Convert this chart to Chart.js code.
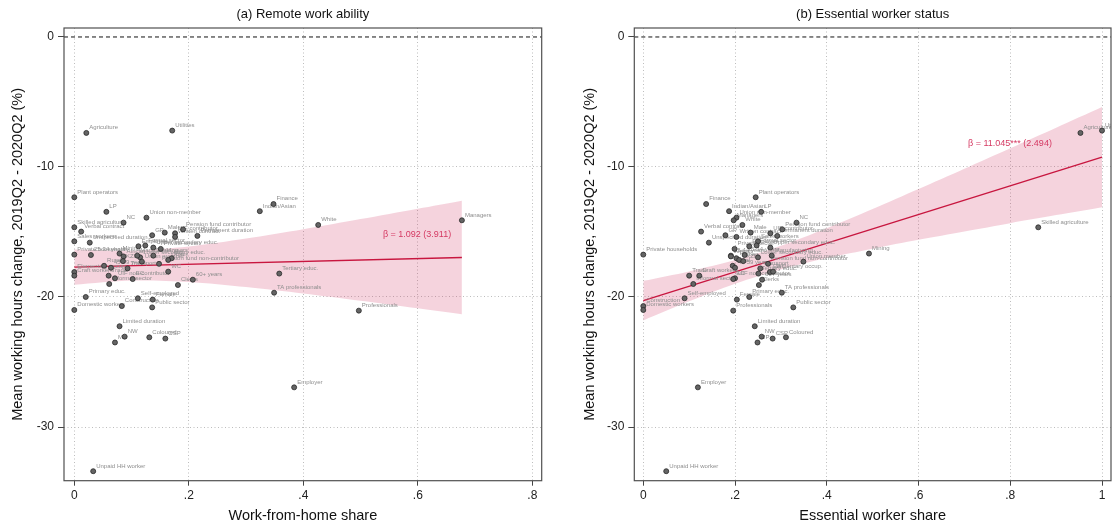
<!DOCTYPE html>
<html>
<head>
<meta charset="utf-8">
<title>Working hours change by remote work ability and essential worker status</title>
<script src="https://cdn.jsdelivr.net/npm/chart.js@4.4.1/dist/chart.umd.min.js"></script>
<style>
  html, body { margin: 0; padding: 0; background: #ffffff; }
  #wrap { position: relative; width: 1120px; height: 527px; overflow: hidden; }
  .panel { position: absolute; top: 0; width: 560px; height: 527px; }
  canvas { display: block; }
</style>
</head>
<body>
<div id="wrap">
  <div class="panel" style="left:0"><canvas id="remote" width="560" height="527"></canvas></div>
  <div class="panel" style="left:560px"><canvas id="essential" width="560" height="527"></canvas></div>
</div>
<script>
// Worker groups: share able to work from home, share in essential work,
// and mean change in working hours between 2019Q2 and 2020Q2 (%).
const groups = [
  'Agriculture', 'Utilities', 'Plant operators', 'Finance', 'Indian/Asian', 'LP',
  'Union non-member', 'Managers', 'NC', 'White', 'Skilled agriculture',
  'Pension fund contributor', 'Verbal contract', 'Male', 'UIF contributor', 'GP',
  'Written contract', 'Permanent duration', 'Sales workers', 'Unspecified duration',
  'Formal sector', 'Upper secondary educ.', 'Employee', 'Private sector',
  'Private households', 'Mining', '25-34 years', '35-44 years', 'Lower secondary educ.',
  'Manufacturing', 'FS', 'African', 'Urban', 'KZN', 'Union member',
  'Pension fund non-contributor', 'Rural', '45-59 years', 'Transport',
  'Elementary occup.', 'WC', 'Tertiary educ.', 'Craft workers', 'Trade',
  'UIF non-contributor', 'EC', '60+ years', 'Informal sector', 'Clerks',
  'TA professionals', 'Primary educ.', 'Self-employed', 'Female', 'Construction',
  'Public sector', 'Domestic workers', 'Professionals', 'Limited duration', 'NW',
  'Coloured', 'CSP', 'MP', 'Employer', 'Unpaid HH worker'
];
const wfhShare = [
  0.021, 0.171, 0.000, 0.348, 0.324, 0.056,
  0.126, 0.677, 0.086, 0.426, 0.000,
  0.190, 0.012, 0.158, 0.176, 0.136,
  0.176, 0.215, 0.000, 0.027,
  0.124, 0.138, 0.112, 0.151,
  0.000, 0.079, 0.029, 0.138, 0.115,
  0.110, 0.170, 0.086, 0.164, 0.085, 0.118,
  0.148, 0.052, 0.064, 0.093,
  0.000, 0.164, 0.358, 0.000, 0.060,
  0.071, 0.102, 0.207, 0.061, 0.181,
  0.349, 0.020, 0.111, 0.137, 0.083,
  0.136, 0.000, 0.497, 0.079, 0.088,
  0.131, 0.159, 0.071, 0.384, 0.033
];
const essentialShare = [
  0.953, 1.000, 0.245, 0.137, 0.187, 0.257,
  0.203, 0.197, 0.334, 0.216, 0.861,
  0.303, 0.126, 0.234, 0.277, 0.179,
  0.203, 0.292, 0.250, 0.143,
  0.247, 0.277, 0.231, 0.199,
  0.000, 0.492, 0.221, 0.191, 0.250,
  0.280, 0.203, 0.191, 0.209, 0.218, 0.349,
  0.272, 0.195, 0.200, 0.255,
  0.276, 0.283, 0.251, 0.122, 0.100,
  0.200, 0.196, 0.259, 0.109, 0.252,
  0.302, 0.231, 0.090, 0.204, 0.000,
  0.327, 0.000, 0.196, 0.243, 0.258,
  0.311, 0.282, 0.249, 0.119, 0.050
];
const hoursChange = [
  -7.38, -7.20, -12.33, -12.85, -13.40, -13.45,
  -13.90, -14.10, -14.28, -14.46, -14.64,
  -14.80, -14.97, -15.05, -15.10, -15.25,
  -15.38, -15.30, -15.72, -15.82,
  -16.04, -16.20, -16.10, -16.30,
  -16.74, -16.66, -16.77, -16.82, -16.95,
  -16.82, -17.02, -16.88, -17.15, -17.24, -17.28,
  -17.45, -17.60, -17.75, -17.80,
  -18.08, -18.05, -18.20, -18.36, -18.36,
  -18.56, -18.62, -18.67, -19.00, -19.08,
  -19.67, -20.00, -20.10, -20.20, -20.70,
  -20.80, -21.00, -21.05, -22.25, -23.05,
  -23.10, -23.20, -23.50, -26.95, -33.40
];

// Linear fits: reported slope (standard error) and value at zero share
const wfhBeta = 1.092, wfhSe = 3.911, wfhIntercept = -17.70;
const wfhFitRange = [0, 0.677];
const essBeta = 11.045, essSe = 2.494, essIntercept = -20.28;
const essFitRange = [0, 1];

// 95% confidence band around each fit
const wfhBandX = [0, 0.1, 0.2, 0.3, 0.4, 0.5, 0.6, 0.677];
const wfhBandHi = [-16.34, -16.44, -16.12, -15.51, -14.79, -14.01, -13.21, -12.59];
const wfhBandLo = [-19.06, -18.74, -18.84, -19.23, -19.73, -20.29, -20.87, -21.33];
const essBandX = [0, 0.1, 0.2, 0.3, 0.4, 0.5, 0.6, 0.7, 0.8, 0.9, 1];
const essBandHi = [-18.76, -18.03, -17.16, -16.06, -14.71, -13.24, -11.70, -10.14, -8.56, -6.98, -5.39];
const essBandLo = [-21.80, -20.33, -18.98, -17.88, -17.01, -16.28, -15.60, -14.96, -14.32, -13.70, -13.09];

// Axis ticks
const yTickValues = [-30, -20, -10, 0];
const yTickLabels = ['-30', '-20', '-10', '0'];
const wfhTickValues = [0, 0.2, 0.4, 0.6, 0.8];
const wfhTickLabels = ['0', '.2', '.4', '.6', '.8'];
const essTickValues = [0, 0.2, 0.4, 0.6, 0.8, 1];
const essTickLabels = ['0', '.2', '.4', '.6', '.8', '1'];

const FONT = '"Liberation Sans", Arial, Helvetica, sans-serif';
Chart.defaults.font.family = FONT;
Chart.defaults.color = '#222222';

const BAND_FILL = 'rgba(204, 36, 84, 0.2)';
const FIT_COLOR = '#c8163f';
const BETA_COLOR = '#d53a63';

// Marker labels sit up and to the right of each point, under the markers
const markerLabels = {
  id: 'markerLabels',
  beforeDatasetDraw(chart, args, opts) {
    if (args.index !== opts.datasetIndex) return;
    const ctx = chart.ctx, area = chart.chartArea;
    ctx.save();
    ctx.beginPath();
    ctx.rect(area.left, area.top, area.right - area.left, area.bottom - area.top);
    ctx.clip();
    ctx.font = '6px ' + FONT;
    ctx.fillStyle = '#8e8e8e';
    ctx.textBaseline = 'alphabetic';
    ctx.textAlign = 'left';
    args.meta.data.forEach((pt, i) => {
      ctx.fillText(groups[i], pt.x + 3, pt.y - 3.6);
    });
    ctx.restore();
  }
};

// Dashed reference line at zero change
const zeroLine = {
  id: 'zeroLine',
  beforeDatasetsDraw(chart) {
    const ctx = chart.ctx, area = chart.chartArea;
    const y = chart.scales.y.getPixelForValue(0);
    ctx.save();
    ctx.strokeStyle = '#111111';
    ctx.lineWidth = 1;
    ctx.setLineDash([4, 3]);
    ctx.beginPath();
    ctx.moveTo(area.left, y);
    ctx.lineTo(area.right, y);
    ctx.stroke();
    ctx.restore();
  }
};

// Plot frame, panel title and slope annotation
const panelDecor = {
  id: 'panelDecor',
  afterDraw(chart, args, opts) {
    const ctx = chart.ctx, area = chart.chartArea;
    ctx.save();
    ctx.strokeStyle = '#505050';
    ctx.lineWidth = 1.2;
    ctx.strokeRect(area.left, area.top, area.right - area.left, area.bottom - area.top);

    ctx.fillStyle = '#111111';
    ctx.font = '13px ' + FONT;
    ctx.textAlign = 'center';
    ctx.textBaseline = 'middle';
    ctx.fillText(opts.title, (area.left + area.right) / 2, 14);

    ctx.fillStyle = BETA_COLOR;
    ctx.font = '9px ' + FONT;
    ctx.textAlign = 'left';
    ctx.textBaseline = 'alphabetic';
    const bx = chart.scales.x.getPixelForValue(opts.betaAt[0]);
    const by = chart.scales.y.getPixelForValue(opts.betaAt[1]);
    ctx.fillText(opts.betaText, bx, by);
    ctx.restore();
  }
};

function fitPoints(range, intercept, beta) {
  return range.map(x => ({ x: x, y: intercept + beta * x }));
}

function buildPanel(canvasId, cfg) {
  const scatterPts = groups.map((g, i) => ({ x: cfg.xs[i], y: hoursChange[i] }));
  const hi = cfg.bandX.map((x, i) => ({ x: x, y: cfg.bandHi[i] }));
  const lo = cfg.bandX.map((x, i) => ({ x: x, y: cfg.bandLo[i] }));

  return new Chart(document.getElementById(canvasId), {
    type: 'scatter',
    data: {
      datasets: [
        { type: 'line', data: hi, borderColor: 'transparent', borderWidth: 0,
          pointRadius: 0, tension: 0.3, fill: false, order: 4 },
        { type: 'line', data: lo, borderColor: 'transparent', borderWidth: 0,
          pointRadius: 0, tension: 0.3, fill: '-1', backgroundColor: BAND_FILL, order: 4 },
        { type: 'line', data: cfg.fit, borderColor: FIT_COLOR, borderWidth: 1.3,
          pointRadius: 0, fill: false, order: 3 },
        { type: 'scatter', data: scatterPts, pointRadius: 2.5, pointHoverRadius: 2.5,
          pointBackgroundColor: '#646464', pointBorderColor: '#2a2a2a',
          pointBorderWidth: 0.8, order: 1 }
      ]
    },
    options: {
      responsive: false,
      devicePixelRatio: 1,
      animation: false,
      events: [],
      layout: { padding: { top: 28, right: cfg.padRight, left: 0, bottom: 0 } },
      plugins: {
        legend: { display: false },
        tooltip: { enabled: false },
        markerLabels: { datasetIndex: 3 },
        panelDecor: { title: cfg.title, betaText: cfg.betaText, betaAt: cfg.betaAt }
      },
      scales: {
        x: {
          type: 'linear',
          min: cfg.xMin, max: cfg.xMax,
          afterBuildTicks: s => { s.ticks = cfg.tickValues.map(v => ({ value: v })); },
          afterFit: s => { s.height = 46.3; },
          ticks: {
            callback: (v, i) => cfg.tickLabels[i],
            font: { size: 12 }, color: '#222222', padding: 3, maxRotation: 0
          },
          grid: {
            color: '#bdbdbd', lineWidth: 1, drawTicks: true, tickLength: 5,
            tickColor: '#444444', tickWidth: 1
          },
          border: { display: false, dash: [1, 2.5] },
          title: {
            display: true, text: cfg.xTitle, font: { size: 14.5 },
            color: '#111111', padding: { top: 0, bottom: 2.3 }
          }
        },
        y: {
          type: 'linear',
          min: -34.13, max: 0.69,
          afterBuildTicks: s => { s.ticks = yTickValues.map(v => ({ value: v })); },
          afterFit: s => { s.width = cfg.yAxisWidth; },
          ticks: {
            callback: (v, i) => yTickLabels[i],
            font: { size: 12 }, color: '#222222', padding: 4
          },
          grid: {
            color: ctx => (ctx.tick && ctx.tick.value === 0) ? 'rgba(0,0,0,0)' : '#bdbdbd',
            tickColor: '#444444',
            lineWidth: 1, drawTicks: true, tickLength: 6, tickWidth: 1
          },
          border: { display: false, dash: [1, 2.5] },
          title: {
            display: true, text: 'Mean working hours change, 2019Q2 - 2020Q2 (%)',
            font: { size: 14.5 }, color: '#111111',
            padding: { top: cfg.yTitlePad, bottom: 0 }
          }
        }
      }
    },
    plugins: [zeroLine, markerLabels, panelDecor]
  });
}

buildPanel('remote', {
  title: '(a) Remote work ability',
  xs: wfhShare,
  xTitle: 'Work-from-home share',
  xMin: -0.018, xMax: 0.8164,
  tickValues: wfhTickValues, tickLabels: wfhTickLabels,
  bandX: wfhBandX, bandHi: wfhBandHi, bandLo: wfhBandLo,
  fit: fitPoints(wfhFitRange, wfhIntercept, wfhBeta),
  betaText: 'β = ' + wfhBeta.toFixed(3) + ' (' + wfhSe.toFixed(3) + ')',
  betaAt: [0.539, -15.38],
  yAxisWidth: 64, yTitlePad: 9.3, padRight: 18.3
});

buildPanel('essential', {
  title: '(b) Essential worker status',
  xs: essentialShare,
  xTitle: 'Essential worker share',
  xMin: -0.0196, xMax: 1.0196,
  tickValues: essTickValues, tickLabels: essTickLabels,
  bandX: essBandX, bandHi: essBandHi, bandLo: essBandLo,
  fit: fitPoints(essFitRange, essIntercept, essBeta),
  betaText: 'β = ' + essBeta.toFixed(3) + '*** (' + essSe.toFixed(3) + ')',
  betaAt: [0.708, -8.38],
  yAxisWidth: 74.3, yTitlePad: 21.3, padRight: 9
});
</script>
</body>
</html>
